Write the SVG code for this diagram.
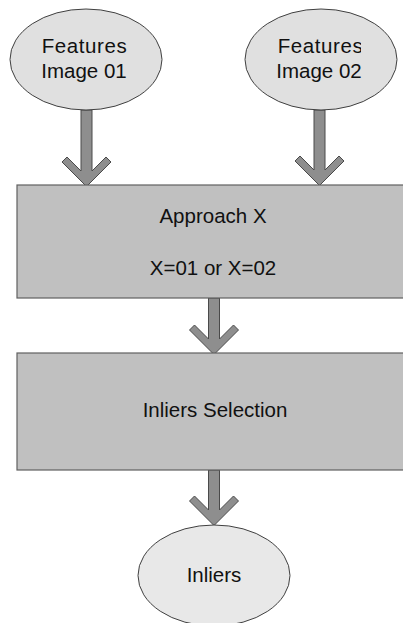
<svg xmlns="http://www.w3.org/2000/svg" width="403" height="623" viewBox="0 0 403 623">
<style>
.ell{fill:#e0e0e0;stroke:#404040;stroke-width:1}
.box{fill:#c0c0c0;stroke:#606060;stroke-width:1.2}
.arr{fill:#8e8e8e;stroke:#4a4a4a;stroke-width:1;stroke-linejoin:miter}
.t{font-family:"Liberation Sans",Arial,sans-serif;font-size:20.5px;fill:#111;text-anchor:middle}
.wide{letter-spacing:0.6px}
</style>
<defs>
<clipPath id="c2"><rect x="240" y="0" width="121" height="120"/></clipPath>
<clipPath id="cs"><rect x="17" y="353" width="270" height="117"/></clipPath>
</defs>
<rect width="403" height="623" fill="#fff"/>
<g id="connectors">
<polygon class="arr" points="81,110 81,171 67,157 62,162 86.5,186.5 111,162 106,157 92,171 92,110"/>
<polygon class="arr" points="314,110 314,170 300,156 295,161 319.5,185.5 344,161 339,156 325,170 325,110"/>
<polygon class="arr" points="208.5,298 208.5,339 194.5,325 189.5,330 214,354.5 238.5,330 233.5,325 219.5,339 219.5,298"/>
<polygon class="arr" points="208.5,470 208.5,510 194.5,496 189.5,501 214,525.5 238.5,501 233.5,496 219.5,510 219.5,470"/>
</g>
<g id="features1">
<ellipse class="ell" cx="86" cy="59.5" rx="76" ry="50.5"/>
<text class="t wide" x="84.5" y="53">Features</text>
<text class="t" x="84" y="78">Image 01</text>
</g>
<g id="features2">
<ellipse class="ell" cx="321" cy="59.5" rx="76" ry="50.5"/>
<g clip-path="url(#c2)">
<text class="t wide" x="320.5" y="53">Features</text>
</g>
<text class="t" x="319" y="78">Image 02</text>
</g>
<g id="approach">
<rect class="box" x="17" y="185" width="400" height="113"/>
<text class="t" x="213" y="223">Approach X</text>
<text class="t" x="213" y="275">X=01 or X=02</text>
</g>
<g id="selection">
<rect class="box" x="17" y="353" width="400" height="117"/>
<g clip-path="url(#cs)">
<text class="t" x="215" y="417">Inliers Selection</text>
</g>
</g>
<g id="inliers">
<ellipse class="ell" cx="214" cy="575.5" rx="76" ry="50.5" style="fill:#e8e8e8"/>
<text class="t" x="214" y="582">Inliers</text>
</g>
</svg>
